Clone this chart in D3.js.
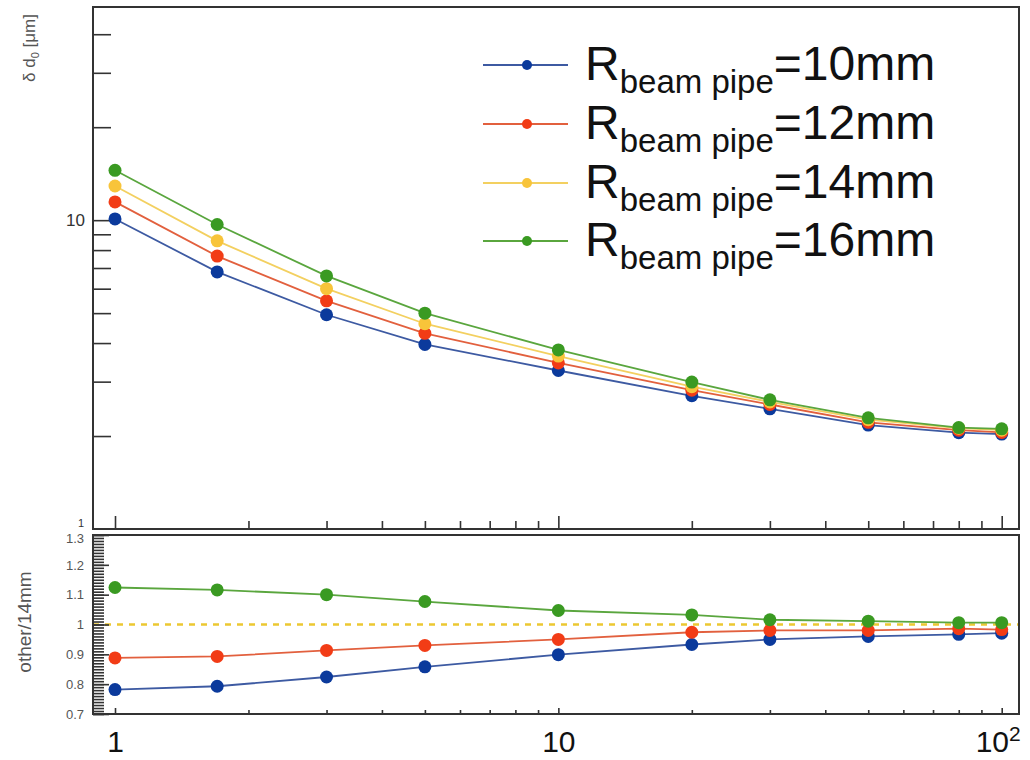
<!DOCTYPE html>
<meta charset="utf-8">
<body style="margin:0;background:#fff">
<style>
    text { font-family: "Liberation Sans", Arial, Helvetica, sans-serif; }
    .axis .domain { display: none; }
    .axis line { stroke: #333; stroke-width: 1.6; }
</style>
<script src="https://d3js.org/d3.v7.min.js"></script>
<script>
    // x values (log axis)
    const xValues = [1, 1.7, 3, 5, 10, 20, 30, 50, 80, 100];

    // d0 resolution in um, one array per beam pipe radius
    const d0_10mm = [10.09, 6.80, 4.94, 3.96, 3.26, 2.70, 2.45, 2.17, 2.05, 2.03];
    const d0_12mm = [11.46, 7.65, 5.48, 4.30, 3.45, 2.815, 2.53, 2.215, 2.09, 2.055];
    const d0_14mm = [12.9, 8.57, 6.0, 4.62, 3.63, 2.89, 2.58, 2.26, 2.12, 2.09];
    const d0_16mm = [14.5, 9.68, 6.60, 5.0, 3.80, 2.99, 2.62, 2.29, 2.13, 2.11];

    // ratio to the 14mm case (lower pad)
    const ratio_10mm = [0.782, 0.793, 0.824, 0.858, 0.899, 0.933, 0.950, 0.960, 0.967, 0.971];
    const ratio_12mm = [0.888, 0.893, 0.913, 0.930, 0.950, 0.974, 0.980, 0.980, 0.986, 0.983];
    const ratio_16mm = [1.124, 1.116, 1.100, 1.077, 1.047, 1.032, 1.016, 1.011, 1.006, 1.006];

    const legendLabels = ["=10mm", "=12mm", "=14mm", "=16mm"];
    const dotColors = ["#0b3a9c", "#f23c16", "#f8c43a", "#3a9a22"];
    const lineColors = ["#3d5aa2", "#e2603e", "#f3d060", "#5aa63e"];

    const xMajor = [1, 10, 100];
    const xLabels = ["1", "10", "10"];
    const topYMinor = [2, 3, 4, 5, 6, 7, 8, 9, 20, 30, 40];
    const ratioLabels = [0.7, 0.8, 0.9, 1.0, 1.1, 1.2, 1.3];

    const W = 1030, H = 760;
    const left = 93, right = 1019;
    const top1 = 7, bot1 = 529, top2 = 535, bot2 = 714;

    const svg = d3.select("body").append("svg")
        .attr("width", W).attr("height", H);

    const x = d3.scaleLog().domain([0.892, 109.4]).range([left, right]);
    const yTop = d3.scaleLog().domain([1, 49]).range([bot1, top1]);
    const yBot = d3.scaleLinear().domain([0.7, 1.3]).range([bot2, top2]);

    let xMinor = [];
    for (let d = 1; d <= 10; d *= 10)
        for (let k = 2; k <= 9; k++) xMinor.push(k * d);

    // ---- top pad ----
    svg.append("g").attr("class", "axis")
        .attr("transform", "translate(0," + bot1 + ")")
        .call(d3.axisBottom(x).tickValues(xMajor).tickSize(-13).tickFormat(""));
    svg.append("g").attr("class", "axis")
        .attr("transform", "translate(0," + bot1 + ")")
        .call(d3.axisBottom(x).tickValues(xMinor).tickSize(-8).tickFormat(""));

    svg.append("g").attr("class", "axis")
        .attr("transform", "translate(" + left + ",0)")
        .call(d3.axisLeft(yTop).tickValues(topYMinor.concat([10])).tickSize(-18).tickFormat(""));

    svg.append("text").attr("x", 85).attr("y", yTop(10) + 6)
        .attr("text-anchor", "end").attr("font-size", 17).attr("fill", "#333").text("10");
    svg.append("text").attr("x", 84).attr("y", yTop(1) - 2)
        .attr("text-anchor", "end").attr("font-size", 11).attr("fill", "#333").text("1");

    const ttl = svg.append("text")
        .attr("transform", "translate(35,14) rotate(-90)")
        .attr("text-anchor", "end").attr("font-size", 17).attr("fill", "#555");
    ttl.append("tspan").text("\u03b4 d");
    ttl.append("tspan").attr("font-size", 11).attr("dy", 4).text("0");
    ttl.append("tspan").attr("dy", -4).text(" [\u03bcm]");

    const topSeries = [d0_10mm, d0_12mm, d0_14mm, d0_16mm];
    const lineTop = d3.line().x((d, i) => x(xValues[i])).y(d => yTop(d));

    topSeries.forEach((s, k) => {
        svg.append("path").datum(s)
            .attr("d", lineTop).attr("fill", "none")
            .attr("stroke", lineColors[k]).attr("stroke-width", 1.8);
    });
    topSeries.forEach((s, k) => {
        svg.append("g").selectAll("circle").data(s).enter().append("circle")
            .attr("cx", (d, i) => x(xValues[i]))
            .attr("cy", d => yTop(d))
            .attr("r", 6.5).attr("fill", dotColors[k]);
    });

    // legend
    const legY = [65, 124, 183, 241];
    legendLabels.forEach((lab, k) => {
        const g = svg.append("g").attr("transform", "translate(0," + legY[k] + ")");
        g.append("line").attr("x1", 483).attr("x2", 568)
            .attr("stroke", lineColors[k]).attr("stroke-width", 2);
        g.append("circle").attr("cx", 527).attr("r", 5).attr("fill", dotColors[k]);
        const t = g.append("text").attr("x", 585).attr("y", 15)
            .attr("font-size", 48).attr("fill", "#111");
        t.append("tspan").text("R");
        t.append("tspan").attr("font-size", 33).attr("dy", 13).text("beam pipe");
        t.append("tspan").attr("dy", -13).text(lab);
    });

    svg.append("rect").attr("x", left).attr("y", top1)
        .attr("width", right - left).attr("height", bot1 - top1)
        .attr("fill", "none").attr("stroke", "#333").attr("stroke-width", 2);

    // ---- bottom pad ----
    svg.append("line")
        .attr("x1", left).attr("x2", right)
        .attr("y1", yBot(1)).attr("y2", yBot(1))
        .attr("stroke", "#ecc832").attr("stroke-width", 2.5)
        .attr("stroke-dasharray", "6,6");

    let ratioMinor = d3.range(70, 131).map(v => v / 100);
    svg.append("g").attr("class", "axis")
        .attr("transform", "translate(" + left + ",0)")
        .call(d3.axisLeft(yBot).tickValues(ratioMinor).tickSize(-11).tickFormat(""))
        .selectAll("line").attr("stroke-width", 1.2);
    const yAx = svg.append("g").attr("class", "axis")
        .attr("transform", "translate(" + left + ",0)")
        .call(d3.axisLeft(yBot).tickValues(ratioLabels).tickSize(-16).tickPadding(9)
            .tickFormat(d => d === 1 ? "1" : d3.format(".1f")(d)));
    yAx.selectAll("text").attr("font-size", 13).attr("fill", "#555")
        .style("font-family", "'Liberation Sans', Arial, sans-serif");
    yAx.selectAll("text").filter(d => d === 1.3).attr("dy", "0.6em");

    svg.append("text")
        .attr("transform", "translate(31,622) rotate(-90)")
        .attr("text-anchor", "middle").attr("font-size", 19).attr("fill", "#555")
        .text("other/14mm");

    const xAx = svg.append("g").attr("class", "axis")
        .attr("transform", "translate(0," + bot2 + ")")
        .call(d3.axisBottom(x).tickValues(xMajor).tickSize(-6).tickPadding(17)
            .tickFormat((d, i) => xLabels[i]));
    xAx.selectAll("text").attr("font-size", 30).attr("fill", "#111")
        .style("font-family", "'Liberation Sans', Arial, sans-serif");
    xAx.selectAll("text").filter(d => d === 100)
        .attr("dx", -4)
        .append("tspan").attr("font-size", 21).attr("dy", "-0.55em").text("2");
    svg.append("g").attr("class", "axis")
        .attr("transform", "translate(0," + bot2 + ")")
        .call(d3.axisBottom(x).tickValues(xMinor).tickSize(-4).tickFormat(""));

    const ratioSeries = [ratio_10mm, ratio_12mm, null, ratio_16mm];
    const lineBot = d3.line().x((d, i) => x(xValues[i])).y(d => yBot(d));
    ratioSeries.forEach((s, k) => {
        if (!s) return;
        svg.append("path").datum(s)
            .attr("d", lineBot).attr("fill", "none")
            .attr("stroke", lineColors[k]).attr("stroke-width", 1.8);
        svg.append("g").selectAll("circle").data(s).enter().append("circle")
            .attr("cx", (d, i) => x(xValues[i]))
            .attr("cy", d => yBot(d))
            .attr("r", 6.5).attr("fill", dotColors[k]);
    });

    svg.append("rect").attr("x", left).attr("y", top2)
        .attr("width", right - left).attr("height", bot2 - top2)
        .attr("fill", "none").attr("stroke", "#333").attr("stroke-width", 2);
</script>
</body>
